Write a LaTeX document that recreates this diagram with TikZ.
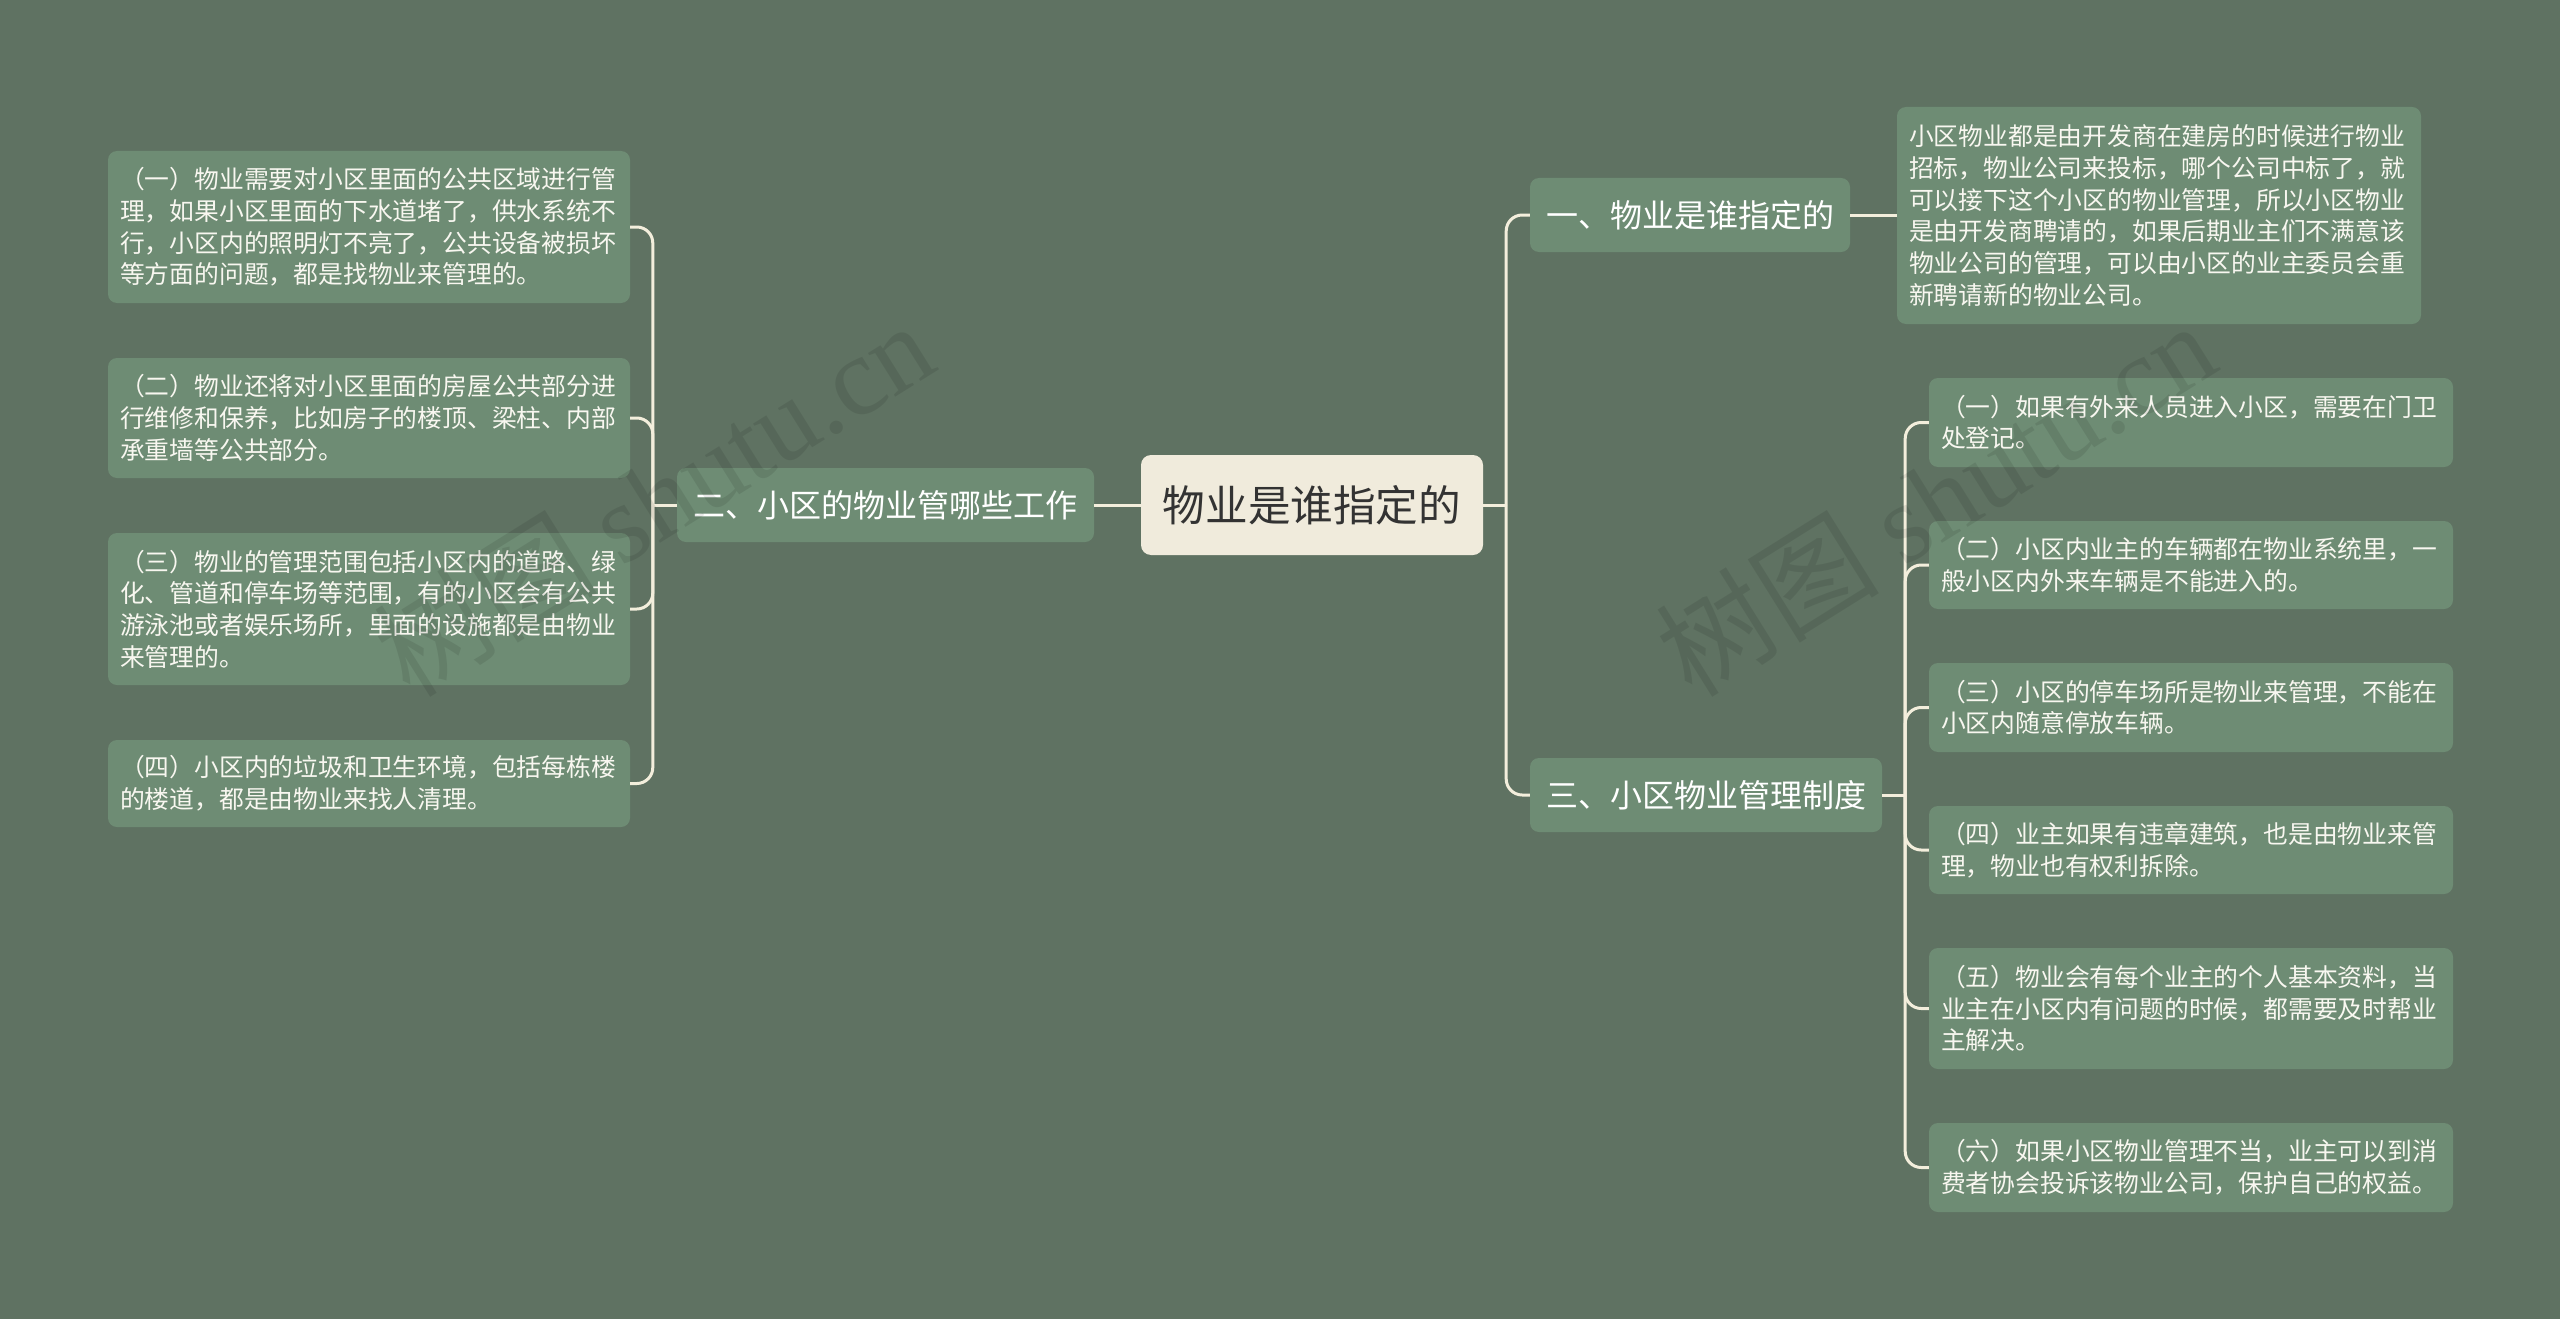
\documentclass[tikz,border=0pt]{standalone}
\usepackage{fontspec}
\setmainfont{Noto Sans CJK SC}
\newfontfamily\wmlatin{Liberation Serif}
\definecolor{bg}{HTML}{5F7262}
\definecolor{nodefill}{HTML}{6E8C74}
\definecolor{rootfill}{HTML}{F0EBDC}
\definecolor{linec}{HTML}{F3EEDC}
\definecolor{leaftext}{HTML}{F8F7F0}
\begin{document}
\begin{tikzpicture}[x=1pt,y=-1pt,
  leaf/.style={fill=nodefill, rounded corners=9pt, text=leaftext,
    font=\fontsize{24.8}{31.7}\selectfont, align=left,
    inner xsep=12pt, inner ysep=0pt, anchor=center},
  lleaf/.style={leaf, text width=498pt},
  rleaf/.style={leaf, text width=500pt},
  branch/.style={fill=nodefill, rounded corners=9pt, text=white,
    font=\fontsize{32}{38}\selectfont, inner sep=0pt, minimum height=74pt},
  rootbox/.style={fill=rootfill, rounded corners=10pt, text=black!80,
    font=\fontsize{42.6}{50}\selectfont, minimum width=342pt,
    minimum height=100pt, inner sep=0pt},
  conn/.style={draw=linec, line width=3pt, rounded corners=16pt},
  wm/.style={text=black, opacity=0.09, font=\fontsize{112}{120}\selectfont, inner sep=0pt}
]
\useasboundingbox (0,0) rectangle (2560,1319);
\fill[bg] (0,0) rectangle (2560,1319);

% root and branches
\node[rootbox] (root) at (1312,505) {物业是谁指定的};
\node[branch, minimum width=417pt] (lb) at (885.5,505) {二、小区的物业管哪些工作};
\node[branch, minimum width=320pt] (r1) at (1690,215) {一、物业是谁指定的};
\node[branch, minimum width=352pt] (r3) at (1706,795) {三、小区物业管理制度};

% left leaves
\node[lleaf, minimum height=152pt] (l1) at (369,227) {（一）物业需要对小区里面的公共区域进行管\\理，如果小区里面的下水道堵了，供水系统不\\行，小区内的照明灯不亮了，公共设备被损坏\\等方面的问题，都是找物业来管理的。};
\node[lleaf, minimum height=120pt] (l2) at (369,418) {（二）物业还将对小区里面的房屋公共部分进\\行维修和保养，比如房子的楼顶、梁柱、内部\\承重墙等公共部分。};
\node[lleaf, minimum height=152pt] (l3) at (369,609) {（三）物业的管理范围包括小区内的道路、绿\\化、管道和停车场等范围，有的小区会有公共\\游泳池或者娱乐场所，里面的设施都是由物业\\来管理的。};
\node[lleaf, minimum height=87pt] (l4) at (369,783.5) {（四）小区内的垃圾和卫生环境，包括每栋楼\\的楼道，都是由物业来找人清理。};

% right leaf of branch one
\node[rleaf, minimum height=217pt] (r1a) at (2159,215.5) {小区物业都是由开发商在建房的时候进行物业\\招标，物业公司来投标，哪个公司中标了，就\\可以接下这个小区的物业管理，所以小区物业\\是由开发商聘请的，如果后期业主们不满意该\\物业公司的管理，可以由小区的业主委员会重\\新聘请新的物业公司。};

% right leaves of branch three
\node[rleaf, minimum height=89pt] (s1) at (2191,422.5) {（一）如果有外来人员进入小区，需要在门卫\\处登记。};
\node[rleaf, minimum height=88pt] (s2) at (2191,565) {（二）小区内业主的车辆都在物业系统里，一\\般小区内外来车辆是不能进入的。};
\node[rleaf, minimum height=89pt] (s3) at (2191,707.5) {（三）小区的停车场所是物业来管理，不能在\\小区内随意停放车辆。};
\node[rleaf, minimum height=88pt] (s4) at (2191,850) {（四）业主如果有违章建筑，也是由物业来管\\理，物业也有权利拆除。};
\node[rleaf, minimum height=121pt] (s5) at (2191,1008.5) {（五）物业会有每个业主的个人基本资料，当\\业主在小区内有问题的时候，都需要及时帮业\\主解决。};
\node[rleaf, minimum height=89pt] (s6) at (2191,1167.5) {（六）如果小区物业管理不当，业主可以到消\\费者协会投诉该物业公司，保护自己的权益。};

% connectors
\draw[conn] (root.west) -- (lb.east);
\path (lb.west) ++(-24,0) coordinate (lj);
\draw[conn] (lb.west) -- (lj);
\foreach \n in {l1,l2,l3,l4} \draw[conn] (lj) |- (\n.east);

\path (root.east) ++(23,0) coordinate (rj);
\draw[conn] (root.east) -- (rj);
\draw[conn] (rj) |- (r1.west);
\draw[conn] (rj) |- (r3.west);
\draw[conn] (r1.east) -- (r1.east -| r1a.west);

\path (r3.east) ++(23,0) coordinate (sj);
\draw[conn] (r3.east) -- (sj);
\foreach \n in {s1,s2,s3,s4,s5,s6} \draw[conn] (sj) |- (\n.west);

% watermarks
\node[wm, rotate=32] (wm1) at (653,498) {树图 {\wmlatin shutu.cn}};
\node[wm, rotate=32] (wm2) at (1935,498) {树图 {\wmlatin shutu.cn}};
\end{tikzpicture}
\end{document}
